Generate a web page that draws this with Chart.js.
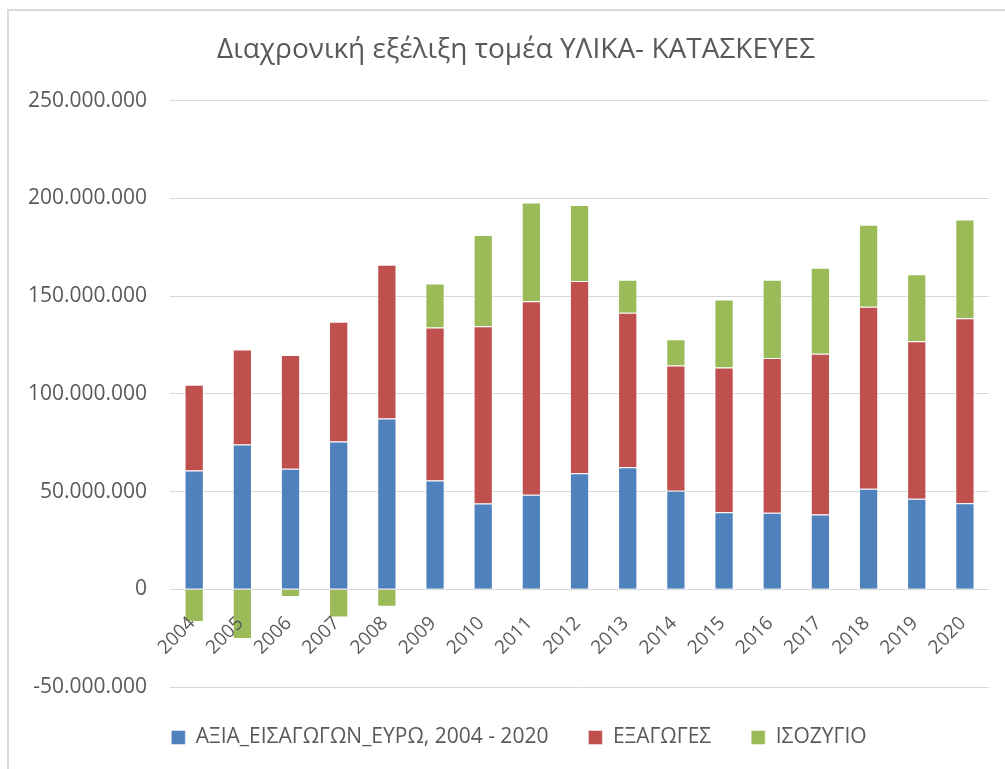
<!DOCTYPE html>
<html>
<head>
<meta charset="utf-8">
<script src="https://cdn.jsdelivr.net/npm/chart.js@4/dist/chart.umd.min.js"></script>
<style>
  html, body { margin: 0; padding: 0; background: #fff; }
  #wrap { position: relative; width: 1005px; height: 769px; overflow: hidden; }
  #frame { position: absolute; left: 7px; top: 9px; right: -10px; bottom: -10px;
           border-left: 2px solid #d9d9d9; border-top: 2px solid #d9d9d9; pointer-events: none; }
  canvas { position: absolute; left: 0; top: 0; }
</style>
</head>
<body>
<div id="wrap">
  <canvas id="c" width="1005" height="769"></canvas>
  <div id="frame"></div>
</div>
<script>
const years = ['2004','2005','2006','2007','2008','2009','2010','2011','2012','2013','2014','2015','2016','2017','2018','2019','2020'];
const imports = [60.7, 74.1, 61.7, 75.6, 87.4, 55.6, 43.9, 48.4, 59.3, 62.4, 50.4, 39.4, 39.1, 38.2, 51.4, 46.3, 44.0];
const exportsVals = [43.9, 48.5, 58.2, 61.2, 78.6, 78.3, 90.7, 99.0, 98.4, 79.1, 64.1, 74.1, 79.2, 82.3, 93.1, 80.6, 94.7];
const balance = [-16.8, -25.5, -4.0, -14.5, -9.0, 22.5, 46.7, 50.5, 38.9, 16.8, 13.4, 34.8, 40.0, 44.0, 42.0, 34.3, 50.5];
const seriesNames = ['ΑΞΙΑ_ΕΙΣΑΓΩΓΩΝ_ΕΥΡΩ, 2004 - 2020', 'ΕΞΑΓΩΓΕΣ', 'ΙΣΟΖΥΓΙΟ'];
const titleText = 'Διαχρονική εξέλιξη τομέα ΥΛΙΚΑ- ΚΑΤΑΣΚΕΥΕΣ';
const MILLION = 1000000;

const toEuro = arr => arr.map(v => Math.round(v * MILLION));
const fmt = v => {
  const s = Math.abs(Math.round(v)).toString().replace(/\B(?=(\d{3})+(?!\d))/g, '.');
  return (v < 0 ? '-' : '') + s;
};

const FONT = "'Open Sans', 'Noto Sans', sans-serif";
const TXT = '#595959';

// shift title and legend horizontally so they sit where the reference has them
const centerShift = {
  id: 'centerShift',
  afterLayout(chart) {
    const t = chart.titleBlock;
    if (t) { const dx = 516 - (t.left + t.right) / 2; t.left += dx; t.right += dx; }
    const l = chart.legend;
    if (l) { const dx = 519 - (l.left + l.right) / 2; l.left += dx; l.right += dx; }
  }
};

new Chart(document.getElementById('c'), {
  type: 'bar',
  data: {
    labels: years,
    datasets: [
      { label: seriesNames[0], data: toEuro(imports), backgroundColor: '#4F81BD', borderColor: 'rgba(255,255,255,0.45)', borderWidth: 1 },
      { label: seriesNames[1], data: toEuro(exportsVals), backgroundColor: '#C0504D', borderColor: 'rgba(255,255,255,0.45)', borderWidth: 1 },
      { label: seriesNames[2], data: toEuro(balance), backgroundColor: '#9BBB59', borderColor: 'rgba(255,255,255,0.45)', borderWidth: 1 }
    ]
  },
  plugins: [centerShift],
  options: {
    responsive: false,
    animation: false,
    devicePixelRatio: 1,
    layout: { padding: { left: 5, right: 16, top: 20, bottom: 11 } },
    datasets: { bar: { categoryPercentage: 1.0, barPercentage: 0.4 } },
    plugins: {
      title: {
        display: true,
        text: titleText,
        color: TXT,
        font: { family: FONT, size: 28, weight: 'normal' },
        padding: { top: 13, bottom: 34 }
      },
      legend: {
        position: 'bottom',
        labels: {
          color: TXT,
          font: { family: FONT, size: 21 },
          boxWidth: 14,
          boxHeight: 14,
          padding: 40
        }
      },
      tooltip: { enabled: false }
    },
    scales: {
      x: {
        stacked: true,
        position: { y: 0 },
        grid: { display: false },
        border: { display: false },
        ticks: {
          z: 1,
          color: TXT,
          font: { family: FONT, size: 19 },
          maxRotation: 45,
          minRotation: 45,
          padding: 15,
          labelOffset: -2
        }
      },
      y: {
        stacked: true,
        min: -50 * MILLION,
        max: 250 * MILLION,
        grid: { color: '#d9d9d9', lineWidth: 1, drawTicks: false },
        border: { display: false },
        ticks: {
          stepSize: 50 * MILLION,
          color: TXT,
          font: { family: FONT, size: 21 },
          padding: 23,
          callback: v => fmt(v)
        }
      }
    }
  }
});
</script>
</body>
</html>
